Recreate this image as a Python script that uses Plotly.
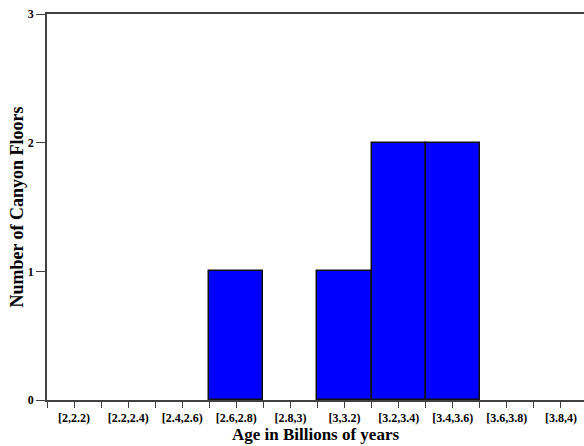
import plotly.graph_objects as go

# Age bins (billions of years) and the number of canyon floors in each
bins = ["[2,2.2)", "[2.2,2.4)", "[2.4,2.6)", "[2.6,2.8)", "[2.8,3)", "[3,3.2)",
        "[3.2,3.4)", "[3.4,3.6)", "[3.6,3.8)", "[3.8,4)"]
counts = [0, 0, 0, 1, 0, 1, 2, 2, 0, 0]
y_ticks = [0, 1, 2, 3]

n = len(bins)
centers = list(range(n))

# ticks at every bin edge and centre; only the centres carry labels
tickvals, ticktext = [], []
for i in range(n):
    tickvals += [i - 0.5, i]
    ticktext += ["", bins[i]]
tickvals.append(n - 0.5)
ticktext.append("")

font_family = "Liberation Serif, Times New Roman, serif"

fig = go.Figure(
    go.Bar(
        x=centers,
        y=counts,
        width=1.0,
        marker=dict(
            color="#0000FF",
            line=dict(color="#111111", width=[1.5 if c > 0 else 0 for c in counts]),
        ),
    )
)

fig.update_layout(
    width=584,
    height=446,
    margin=dict(l=47, r=0, t=14, b=46),
    paper_bgcolor="white",
    plot_bgcolor="white",
    showlegend=False,
    bargap=0,
    font=dict(family=font_family, color="black"),
)

fig.update_xaxes(
    range=[-0.5, n - 0.5 - 4 / 54.3],
    tickmode="array",
    tickvals=tickvals,
    ticktext=ticktext,
    ticks="outside",
    ticklen=6,
    tickwidth=1,
    tickcolor="#404040",
    tickangle=0,
    tickfont=dict(size=12, family=font_family, weight="bold"),
    showline=True,
    linecolor="#404040",
    linewidth=1.5,
    mirror=True,
    showgrid=False,
    zeroline=False,
    title=dict(text="Age in Billions of years",
               font=dict(size=17, family=font_family, weight="bold"),
               standoff=4),
)

fig.update_yaxes(
    range=[0, 3],
    tickmode="array",
    tickvals=y_ticks,
    ticktext=[str(v) for v in y_ticks],
    ticks="outside",
    ticklen=9,
    tickwidth=1,
    tickcolor="#404040",
    tickfont=dict(size=12, family=font_family, weight="bold"),
    showline=True,
    linecolor="#404040",
    linewidth=1.5,
    showgrid=False,
    zeroline=False,
    title=dict(text="Number of Canyon Floors",
               font=dict(size=18, family=font_family, weight="bold"),
               standoff=0),
)

fig.write_html("out.html")
